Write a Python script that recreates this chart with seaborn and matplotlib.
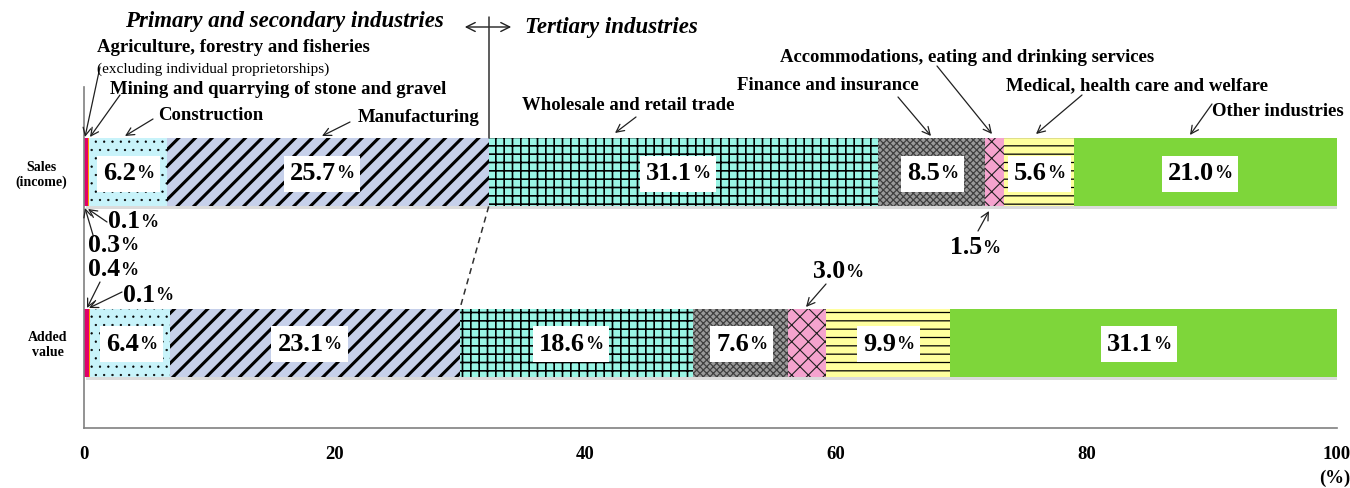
import numpy as np
import pandas as pd
import matplotlib
matplotlib.use("Agg")
import matplotlib.pyplot as plt
import matplotlib.patheffects as pe
import seaborn as sns
from matplotlib.patches import Rectangle
from matplotlib.transforms import IdentityTransform, Bbox

# ---------------- data ----------------
categories = ["Sales\n(income)", "Added\nvalue"]
industries = [
    "Agriculture, forestry and fisheries",
    "Mining and quarrying of stone and gravel",
    "Construction",
    "Manufacturing",
    "Wholesale and retail trade",
    "Finance and insurance",
    "Accommodations, eating and drinking services",
    "Medical, health care and welfare",
    "Other industries",
]
sales = [0.3, 0.1, 6.2, 25.7, 31.1, 8.5, 1.5, 5.6, 21.0]
added = [0.4, 0.1, 6.4, 23.1, 18.6, 7.6, 3.0, 9.9, 31.1]
xticks = [0, 20, 40, 60, 80, 100]

# ---------------- styles ----------------
colors = ["#E0006A", "#FF9A00", "#C8F3FA", "#C6D0EA", "#9AF5E5",
          "#9A9A9A", "#F5A3CE", "#FFFF9E", "#7ED63A"]
hatches = [None, None, "..", "//", "++", "xxxxx", "xx", "--", None]
hatch_ec = ["#E0006A", "#FF9A00", "black", "black", "black",
            "#404040", "#202020", "black", "#7ED63A"]
hatch_lw = [1, 1, 0.4, 2.2, 1.2, 0.9, 0.8, 0.9, 1]

W, H = 1350, 488
sns.set_style("white")
plt.rcParams["font.family"] = ["Liberation Serif", "DejaVu Serif"]
plt.rcParams["font.weight"] = "bold"
plt.rcParams["text.color"] = "black"
plt.rcParams["xtick.labelcolor"] = "black"
plt.rcParams["ytick.labelcolor"] = "black"

fig = plt.figure(figsize=(W / 100, H / 100), dpi=100)
ax = fig.add_axes([84 / W, 1 - 428 / H, (1337 - 84) / W, (428 - 87) / H])

df = pd.DataFrame({
    "category": np.repeat(categories, len(industries)),
    "industry": industries * 2,
    "value": sales + added,
})
df["cum"] = df.groupby("category", sort=False)["value"].cumsum()

for i in reversed(range(len(industries))):
    sub = df[df["industry"] == industries[i]]
    with plt.rc_context({"hatch.linewidth": hatch_lw[i]}):
        sns.barplot(data=sub, x="cum", y="category", order=categories,
                    orient="y", color=colors[i], saturation=1, width=0.4,
                    hatch=hatches[i], edgecolor=hatch_ec[i], linewidth=0,
                    errorbar=None, ax=ax)
    if i == len(industries) - 1:
        for bar in ax.patches:
            bar.set_path_effects([
                pe.SimplePatchShadow(offset=(1.2, -2.0), shadow_rgbFace="#b0b0b0",
                                     alpha=0.45),
                pe.Normal()])

ax.set_xlim(0, 100)
ax.set_ylim(1.5, -0.5)
ax.set_xlabel("")
ax.set_ylabel("")
ax.set_xticks(xticks)
ax.set_xticklabels([str(t) for t in xticks], fontsize=13.5, fontweight="bold")
ax.set_yticks([0, 1])
ax.set_yticklabels(categories, fontsize=10, fontweight="bold", multialignment="center")
ax.set_yticks([-0.5, 0.5, 1.5], minor=True)
ax.tick_params(axis="y", which="major", length=0, pad=12)
ax.tick_params(axis="y", which="minor", length=4, color="#808080", direction="out")
ax.tick_params(axis="x", length=5, color="#808080", pad=8, direction="out")
for s in ["top", "right"]:
    ax.spines[s].set_visible(False)
for s in ["left", "bottom"]:
    ax.spines[s].set_color("#808080")
    ax.spines[s].set_linewidth(1.2)


def fp(x, y):
    return (x, H - y)


def to_data(px, py):
    return ((px - 84) / 12.53, -0.5 + (py - 87) / 170.5)


ARROW = dict(arrowstyle="->", color="#202020", lw=0.9, shrinkA=0, shrinkB=0,
             mutation_scale=14)


def arrow(start_px, tip_px):
    ax.annotate("", xy=to_data(*tip_px), xycoords="data",
                xytext=fp(*start_px), textcoords="figure pixels",
                arrowprops=ARROW, annotation_clip=False)


def pct_text(num, pos_px, fs=18.5, fs_pct=13):
    t = ax.annotate(num, xy=fp(*pos_px), xycoords="figure pixels",
                    ha="left", va="center", fontsize=fs, fontweight="bold",
                    zorder=6, annotation_clip=False)
    p = ax.annotate("%", xy=(1, 0.13), xycoords=t, ha="left", va="bottom",
                    fontsize=fs_pct, fontweight="bold", zorder=6,
                    annotation_clip=False)
    return t, p


# ---------- labels inside bars ----------
pairs = []
for ci, vals in enumerate([sales, added]):
    cum = np.cumsum(vals)
    for v, c in zip(vals, cum):
        if v > 5:
            t = ax.annotate(f"{v:.1f}", xy=(c - v / 2, ci), xycoords="data",
                            xytext=(6, -1), textcoords="offset points",
                            ha="right", va="center", fontsize=19,
                            fontweight="bold", zorder=6)
            p = ax.annotate("%", xy=(1, 0.13), xycoords=t, ha="left",
                            va="bottom", fontsize=13, fontweight="bold",
                            zorder=6)
            pairs.append((t, p))

# ---------- category labels with arrows ----------
top_labels = [
    (industries[0], (97, 48), (100, 67), (85, 137)),
    (industries[1], (110, 90), (120, 95), (90, 137)),
    (industries[2], (158, 115), (153, 119), (125, 136)),
    (industries[3], (358, 117), (350, 122), (322, 136)),
    (industries[4], (522, 105), (636, 117), (615, 133)),
    (industries[5], (737, 86), (898, 97), (931, 136)),
    (industries[6], (780, 57), (937, 66), (992, 134)),
    (industries[7], (1006, 86), (1082, 95), (1036, 134)),
    (industries[8], (1212, 111), (1212, 104), (1190, 135)),
]
for text, pos, start, tip in top_labels:
    ax.annotate(text, xy=fp(*pos), xycoords="figure pixels", ha="left",
                va="center", fontsize=13.5, fontweight="bold",
                annotation_clip=False)
    arrow(start, tip)
ax.annotate("(excluding individual proprietorships)", xy=fp(97, 69),
            xycoords="figure pixels", ha="left", va="center", fontsize=11,
            fontweight="normal", annotation_clip=False)

# ---------- small-value labels ----------
small = [
    (f"{sales[1]:.1f}", (108, 222), (107, 222), (88, 209)),
    (f"{sales[0]:.1f}", (88, 245), (93, 235), (85, 208)),
    (f"{added[0]:.1f}", (88, 270), (100, 282), (87, 308)),
    (f"{added[1]:.1f}", (123, 295), (122, 292), (89, 308)),
    (f"{sales[6]:.1f}", (950, 248), (978, 231), (989, 211)),
    (f"{added[6]:.1f}", (813, 272), (826, 284), (806, 307)),
]
for num, pos, start, tip in small:
    pct_text(num, pos)
    arrow(start, tip)

# ---------- industry group divider ----------
b_sales = np.cumsum(sales)[3]
b_added = np.cumsum(added)[3]
ax.plot([b_sales, b_sales], [-0.2, to_data(0, 17)[1]], color="#303030",
        lw=1.1, clip_on=False, zorder=5)
ax.plot([b_sales, b_added], [0.2, 0.8], color="#303030", lw=1.1,
        ls=(0, (4, 3)), clip_on=False, zorder=5)
ax.annotate("", xy=fp(462, 27), xycoords="figure pixels",
            xytext=fp(514, 27), textcoords="figure pixels",
            arrowprops=dict(arrowstyle="<->", color="#202020", lw=1,
                            mutation_scale=16), annotation_clip=False)
fig.text(125 / W, 1 - 22 / H, "Primary and secondary industries", ha="left",
         va="center", fontsize=16.5, fontweight="bold", fontstyle="italic")
fig.text(525 / W, 1 - 27 / H, "Tertiary industries", ha="left",
         va="center", fontsize=16.5, fontweight="bold", fontstyle="italic")
fig.text(1335 / W, 1 - 478 / H, "(%)", ha="center", va="center",
         fontsize=13.5, fontweight="bold")

# ---------- white boxes behind in-bar labels ----------
fig.canvas.draw()
r = fig.canvas.get_renderer()
for t, p in pairs:
    bb = Bbox.union([t.get_window_extent(r), p.get_window_extent(r)])
    cy = (bb.y0 + bb.y1) / 2
    rect = Rectangle((bb.x0 - 6, cy - 18), bb.width + 12, 36,
                     transform=IdentityTransform(), facecolor="white",
                     edgecolor="none", zorder=5, clip_on=False)
    ax.add_patch(rect)

fig.savefig("out.png", dpi=100)
